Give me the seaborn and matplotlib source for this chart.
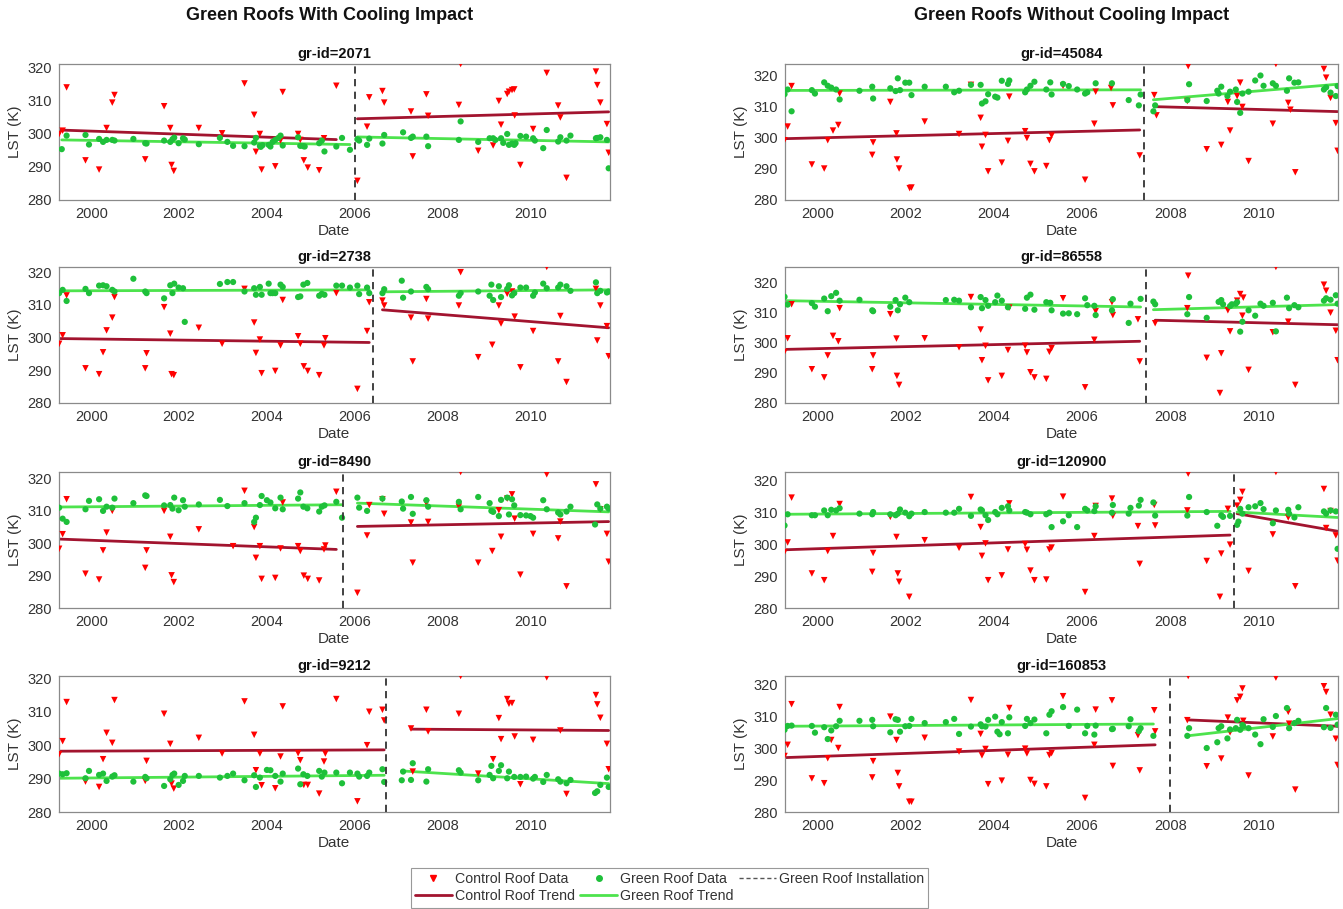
import numpy as np
import pandas as pd
import matplotlib
matplotlib.use("Agg")
import matplotlib.pyplot as plt
import seaborn as sns
from matplotlib.lines import Line2D

# ===============================
# DATA (decimal year, LST in K)
# ===============================

# --- gr-id=2071 ---
ctrl_date_2071 = [1999.27, 1999.35, 1999.44, 1999.87, 2000.18, 2000.35, 2000.48, 2000.53, 2001.23, 2001.66,
                  2001.80, 2001.83, 2001.88, 2002.45, 2002.98, 2003.49, 2003.71, 2003.75, 2003.84, 2003.88,
                  2004.19, 2004.31, 2004.36, 2004.71, 2004.76, 2004.84, 2004.93, 2005.19, 2005.30, 2005.58,
                  2006.06, 2006.28, 2006.33, 2006.63, 2006.67, 2007.28, 2007.32, 2007.63, 2007.67, 2008.37,
                  2008.41, 2008.81, 2009.15, 2009.28, 2009.33, 2009.47, 2009.51, 2009.58, 2009.63, 2009.64,
                  2009.77, 2010.06, 2010.37, 2010.63, 2010.68, 2010.82, 2011.49, 2011.52, 2011.59, 2011.74,
                  2011.78]
ctrl_lst_2071 = [300.0, 301.0, 314.1, 292.0, 289.2, 301.8, 309.5, 311.8, 292.3, 308.4,
                 301.8, 290.6, 288.8, 301.8, 300.2, 315.3, 305.8, 294.6, 300.0, 289.2,
                 290.2, 298.0, 312.7, 300.0, 298.2, 292.0, 289.8, 289.0, 298.7, 314.6,
                 285.8, 302.2, 311.1, 313.0, 309.5, 306.8, 293.2, 312.0, 305.5, 308.8,
                 321.2, 294.9, 296.5, 310.0, 302.8, 312.1, 312.8, 313.3, 313.5, 305.6,
                 290.6, 301.5, 318.5, 308.6, 305.0, 286.7, 318.9, 314.8, 309.5, 303.0,
                 294.3]
green_date_2071 = [1999.33, 1999.44, 1999.87, 1999.95, 2000.18, 2000.27, 2000.35, 2000.48, 2000.53, 2000.96,
                   2001.23, 2001.26, 2001.66, 2001.80, 2001.85, 2001.89, 2001.99, 2002.09, 2002.13, 2002.45,
                   2002.93, 2003.10, 2003.23, 2003.49, 2003.71, 2003.75, 2003.84, 2003.86, 2003.90, 2004.04,
                   2004.08, 2004.13, 2004.19, 2004.26, 2004.31, 2004.36, 2004.71, 2004.76, 2004.83, 2004.86,
                   2005.19, 2005.25, 2005.31, 2005.58, 2005.71, 2005.89, 2006.06, 2006.10, 2006.28, 2006.33,
                   2006.63, 2006.67, 2007.10, 2007.28, 2007.32, 2007.63, 2007.67, 2008.37, 2008.41, 2008.81,
                   2009.07, 2009.15, 2009.20, 2009.33, 2009.38, 2009.47, 2009.51, 2009.58, 2009.63, 2009.66,
                   2009.77, 2009.90, 2010.06, 2010.10, 2010.29, 2010.37, 2010.63, 2010.68, 2010.82, 2010.91,
                   2011.49, 2011.52, 2011.59, 2011.74, 2011.78]
green_lst_2071 = [295.4, 299.5, 299.7, 296.8, 298.5, 297.6, 298.2, 298.2, 298.0, 298.5,
                  297.2, 297.1, 298.0, 297.6, 298.4, 298.9, 297.2, 298.7, 298.3, 296.9,
                  298.8, 297.6, 296.4, 296.3, 297.4, 298.8, 296.4, 296.1, 296.6, 296.7,
                  296.2, 297.6, 298.2, 298.8, 299.5, 296.5, 299.0, 296.4, 296.3, 296.2,
                  297.2, 298.0, 294.7, 296.2, 298.8, 295.2, 298.4, 298.0, 296.7, 298.6,
                  297.1, 299.7, 300.5, 298.8, 299.2, 299.2, 296.3, 298.2, 303.8, 297.6,
                  298.7, 298.7, 298.2, 298.7, 297.3, 300.0, 296.7, 297.1, 296.7, 297.2,
                  299.4, 299.2, 298.7, 298.0, 295.7, 301.2, 297.7, 299.0, 298.0, 299.5,
                  298.7, 298.8, 299.0, 298.2, 289.6]
trend_ctrl_2071 = [301.2, 298.3, 304.6, 306.7]
trend_green_2071 = [298.2, 296.8, 299.1, 297.6]

# --- gr-id=2738 ---
ctrl_date_2738 = [1999.27, 1999.35, 1999.44, 1999.87, 2000.18, 2000.27, 2000.35, 2000.48, 2000.53, 2001.23,
                  2001.26, 2001.66, 2001.80, 2001.83, 2001.88, 2002.45, 2002.98, 2003.49, 2003.71, 2003.75,
                  2003.84, 2003.88, 2004.19, 2004.31, 2004.36, 2004.71, 2004.76, 2004.84, 2004.93, 2005.19,
                  2005.30, 2005.33, 2005.58, 2006.06, 2006.28, 2006.33, 2006.63, 2006.67, 2007.28, 2007.32,
                  2007.63, 2007.67, 2008.37, 2008.41, 2008.81, 2009.13, 2009.28, 2009.33, 2009.47, 2009.58,
                  2009.64, 2009.77, 2010.06, 2010.37, 2010.63, 2010.68, 2010.82, 2011.49, 2011.52, 2011.59,
                  2011.74, 2011.78]
ctrl_lst_2738 = [298.1, 300.7, 312.9, 290.6, 288.8, 295.5, 302.2, 306.1, 312.4, 290.6,
                 295.2, 309.3, 301.2, 288.8, 288.5, 303.0, 298.1, 314.9, 304.6, 295.3,
                 299.4, 289.1, 289.8, 297.6, 311.5, 300.4, 298.1, 291.2, 289.8, 288.5,
                 297.6, 299.8, 313.6, 284.3, 302.0, 310.8, 311.3, 309.8, 306.1, 292.7,
                 311.8, 305.8, 309.8, 320.0, 294.0, 297.8, 309.8, 304.3, 313.4, 314.1,
                 306.4, 290.9, 302.0, 321.6, 292.7, 306.6, 286.4, 314.9, 299.1, 309.8,
                 303.5, 294.3]
green_date_2738 = [1999.27, 1999.35, 1999.44, 1999.87, 1999.95, 2000.18, 2000.27, 2000.35, 2000.48, 2000.53,
                   2000.96, 2001.23, 2001.26, 2001.66, 2001.80, 2001.85, 2001.89, 2001.99, 2002.09, 2002.13,
                   2002.93, 2003.10, 2003.23, 2003.49, 2003.71, 2003.75, 2003.84, 2003.88, 2004.04, 2004.08,
                   2004.13, 2004.19, 2004.31, 2004.36, 2004.71, 2004.76, 2004.83, 2004.92, 2005.19, 2005.25,
                   2005.31, 2005.58, 2005.71, 2005.89, 2006.06, 2006.10, 2006.28, 2006.33, 2006.63, 2006.67,
                   2007.07, 2007.10, 2007.28, 2007.63, 2007.67, 2008.37, 2008.41, 2008.81, 2009.07, 2009.11,
                   2009.15, 2009.28, 2009.33, 2009.47, 2009.51, 2009.58, 2009.63, 2009.77, 2009.90, 2010.06,
                   2010.10, 2010.29, 2010.37, 2010.63, 2010.68, 2010.82, 2010.91, 2011.49, 2011.52, 2011.59,
                   2011.74, 2011.78]
green_lst_2738 = [313.6, 314.6, 311.2, 314.9, 313.6, 315.9, 316.0, 315.7, 314.6, 314.1,
                  318.0, 314.1, 313.6, 312.0, 316.0, 313.6, 316.5, 315.3, 315.1, 304.8,
                  316.4, 317.0, 317.0, 314.1, 315.1, 313.1, 315.5, 313.1, 316.5, 313.6,
                  313.6, 313.6, 316.2, 315.5, 312.4, 312.6, 316.2, 316.7, 312.8, 313.4,
                  313.1, 315.9, 315.9, 315.3, 315.9, 313.3, 315.3, 313.6, 313.6, 314.8,
                  317.4, 312.2, 314.1, 315.5, 314.8, 312.8, 313.6, 314.1, 312.8, 316.2,
                  311.5, 315.7, 312.4, 314.9, 316.0, 312.9, 313.6, 315.3, 315.3, 312.8,
                  313.8, 316.5, 315.1, 315.3, 316.2, 315.7, 314.3, 316.9, 313.6, 314.3,
                  313.8, 314.1]
trend_ctrl_2738 = [299.7, 298.5, 308.5, 303.0]
trend_green_2738 = [314.3, 314.6, 314.0, 314.6]

# --- gr-id=8490 ---
ctrl_date_8490 = [1999.27, 1999.35, 1999.44, 1999.87, 2000.18, 2000.27, 2000.35, 2000.48, 2001.23, 2001.26,
                  2001.66, 2001.80, 2001.83, 2001.88, 2002.45, 2003.23, 2003.49, 2003.71, 2003.75, 2003.84,
                  2003.88, 2004.19, 2004.31, 2004.36, 2004.71, 2004.76, 2004.84, 2004.93, 2005.19, 2005.30,
                  2005.33, 2005.58, 2006.06, 2006.28, 2006.33, 2006.63, 2006.67, 2007.28, 2007.32, 2007.63,
                  2007.67, 2008.37, 2008.41, 2008.81, 2009.13, 2009.28, 2009.33, 2009.47, 2009.58, 2009.64,
                  2009.77, 2010.06, 2010.37, 2010.63, 2010.68, 2010.82, 2011.49, 2011.59, 2011.74, 2011.78]
ctrl_lst_8490 = [298.3, 302.8, 313.6, 290.6, 288.8, 297.8, 303.3, 310.0, 292.4, 297.8,
                 310.0, 302.0, 290.1, 288.0, 304.3, 299.1, 316.2, 305.0, 295.5, 299.1,
                 289.0, 289.3, 298.4, 312.6, 299.1, 297.6, 290.0, 289.0, 288.5, 298.1,
                 299.3, 315.9, 284.7, 302.4, 311.8, 313.6, 309.1, 306.4, 294.0, 312.4,
                 306.6, 311.3, 322.0, 294.0, 297.6, 310.2, 302.0, 313.8, 315.1, 307.6,
                 290.3, 302.9, 321.3, 301.5, 306.7, 286.7, 318.2, 310.5, 302.9, 294.3]
green_date_8490 = [1999.27, 1999.35, 1999.44, 1999.87, 1999.95, 2000.18, 2000.27, 2000.35, 2000.48, 2000.53,
                   2000.96, 2001.23, 2001.26, 2001.66, 2001.80, 2001.85, 2001.89, 2001.99, 2002.09, 2002.13,
                   2002.45, 2002.93, 2003.10, 2003.49, 2003.71, 2003.75, 2003.84, 2003.88, 2004.00, 2004.08,
                   2004.19, 2004.31, 2004.36, 2004.71, 2004.76, 2004.83, 2004.92, 2005.19, 2005.25, 2005.31,
                   2005.58, 2005.71, 2006.06, 2006.10, 2006.28, 2006.63, 2007.07, 2007.10, 2007.28, 2007.32,
                   2007.63, 2007.67, 2008.37, 2008.41, 2008.81, 2009.07, 2009.11, 2009.15, 2009.28, 2009.33,
                   2009.47, 2009.51, 2009.58, 2009.63, 2009.77, 2009.90, 2010.00, 2010.06, 2010.29, 2010.37,
                   2010.63, 2010.68, 2010.82, 2010.91, 2011.47, 2011.52, 2011.59, 2011.74, 2011.78]
green_lst_8490 = [311.0, 307.6, 306.6, 310.5, 313.1, 313.6, 310.0, 311.3, 311.0, 313.8,
                  312.4, 314.8, 314.6, 311.7, 311.8, 310.7, 314.1, 310.2, 313.3, 311.3,
                  312.0, 313.4, 311.5, 312.4, 306.6, 307.9, 311.8, 314.6, 313.3, 312.6,
                  310.8, 314.1, 310.5, 313.8, 315.7, 311.3, 310.8, 309.8, 311.3, 311.7,
                  312.8, 307.9, 314.1, 311.0, 310.0, 313.8, 312.9, 310.7, 314.3, 309.1,
                  313.3, 311.3, 312.8, 310.5, 314.3, 312.4, 310.0, 309.7, 308.4, 313.4,
                  314.1, 308.9, 313.6, 311.7, 308.7, 308.6, 308.4, 307.9, 313.3, 310.5,
                  309.5, 308.9, 309.8, 311.3, 305.8, 312.0, 310.7, 311.3, 310.7]
trend_ctrl_8490 = [301.3, 298.1, 305.2, 306.7]
trend_green_8490 = [311.2, 311.9, 312.4, 309.7]

# --- gr-id=9212 ---
ctrl_date_9212 = [1999.27, 1999.35, 1999.44, 1999.87, 2000.18, 2000.27, 2000.35, 2000.48, 2000.53, 2001.23,
                  2001.26, 2001.66, 2001.80, 2001.83, 2001.88, 2002.45, 2002.98, 2003.49, 2003.71, 2003.75,
                  2003.84, 2003.88, 2004.19, 2004.31, 2004.36, 2004.71, 2004.76, 2004.84, 2004.93, 2005.19,
                  2005.30, 2005.33, 2005.58, 2006.06, 2006.28, 2006.33, 2006.63, 2006.67, 2007.28, 2007.32,
                  2007.63, 2007.67, 2008.37, 2008.41, 2008.81, 2009.15, 2009.28, 2009.33, 2009.47, 2009.51,
                  2009.58, 2009.64, 2009.77, 2010.06, 2010.37, 2010.68, 2010.82, 2011.49, 2011.52, 2011.59,
                  2011.74, 2011.78]
ctrl_lst_9212 = [297.3, 301.2, 312.9, 289.1, 287.5, 295.8, 303.7, 300.7, 313.5, 289.3,
                 295.3, 309.4, 300.4, 288.5, 287.0, 302.2, 297.5, 313.1, 303.1, 292.5,
                 297.5, 288.0, 287.1, 296.6, 311.6, 297.6, 295.5, 288.1, 288.1, 285.5,
                 295.1, 297.5, 313.8, 283.2, 300.0, 310.0, 310.6, 307.4, 305.0, 292.1,
                 310.6, 304.1, 309.4, 320.7, 291.5, 295.8, 308.1, 301.8, 313.8, 312.4,
                 312.6, 302.6, 288.3, 301.6, 320.3, 304.4, 285.4, 315.0, 312.2, 308.2,
                 300.4, 292.8]
green_date_9212 = [1999.27, 1999.35, 1999.44, 1999.87, 1999.95, 2000.18, 2000.27, 2000.35, 2000.48, 2000.53,
                   2000.96, 2001.23, 2001.26, 2001.66, 2001.80, 2001.85, 2001.89, 2001.99, 2002.09, 2002.13,
                   2002.45, 2002.93, 2003.10, 2003.23, 2003.49, 2003.71, 2003.75, 2003.84, 2004.00, 2004.08,
                   2004.19, 2004.31, 2004.36, 2004.71, 2004.76, 2004.83, 2004.92, 2005.19, 2005.25, 2005.31,
                   2005.58, 2005.71, 2005.89, 2006.06, 2006.10, 2006.28, 2006.33, 2006.63, 2006.67, 2007.07,
                   2007.10, 2007.28, 2007.32, 2007.63, 2007.67, 2008.37, 2008.41, 2008.81, 2009.07, 2009.11,
                   2009.15, 2009.28, 2009.33, 2009.47, 2009.51, 2009.63, 2009.77, 2009.90, 2010.06, 2010.10,
                   2010.29, 2010.37, 2010.63, 2010.68, 2010.82, 2010.91, 2011.47, 2011.52, 2011.59, 2011.74,
                   2011.78]
green_lst_9212 = [291.5, 291.3, 291.6, 290.1, 292.3, 291.1, 291.5, 289.3, 290.6, 291.0,
                  289.1, 290.5, 290.1, 287.8, 289.8, 291.1, 291.5, 288.1, 289.3, 290.8,
                  290.8, 290.3, 290.8, 291.5, 289.5, 291.0, 287.5, 290.3, 292.6, 292.5,
                  290.8, 289.1, 291.5, 293.0, 288.3, 291.3, 290.8, 292.3, 290.6, 291.8,
                  291.8, 288.6, 291.8, 291.5, 290.6, 290.8, 291.8, 292.8, 289.0, 289.5,
                  292.1, 289.6, 294.6, 289.1, 292.8, 292.5, 291.8, 289.5, 291.1, 293.8,
                  290.1, 292.3, 294.0, 290.1, 292.1, 290.5, 290.5, 290.6, 290.0, 290.5,
                  289.0, 291.1, 289.8, 289.1, 288.6, 289.6, 285.7, 286.2, 288.1, 290.3,
                  287.5]
trend_ctrl_9212 = [298.2, 298.6, 304.8, 304.4]
trend_green_9212 = [290.1, 291.0, 292.3, 288.5]

# --- gr-id=45084 ---
ctrl_date_45084 = [1999.25, 1999.32, 1999.41, 1999.87, 2000.15, 2000.23, 2000.35, 2000.47, 2000.50, 2001.24,
                   2001.26, 2001.65, 2001.79, 2001.80, 2001.85, 2002.09, 2002.13, 2002.43, 2003.21, 2003.48,
                   2003.70, 2003.73, 2003.81, 2003.87, 2004.18, 2004.32, 2004.35, 2004.71, 2004.75, 2004.83,
                   2004.92, 2005.19, 2005.26, 2005.31, 2005.57, 2006.07, 2006.28, 2006.31, 2006.66, 2006.70,
                   2007.31, 2007.64, 2007.69, 2008.39, 2008.41, 2008.83, 2009.16, 2009.31, 2009.36, 2009.52,
                   2009.59, 2009.64, 2009.78, 2010.33, 2010.40, 2010.68, 2010.73, 2010.84, 2011.49, 2011.54,
                   2011.64, 2011.76, 2011.80]
ctrl_lst_45084 = [299.2, 303.6, 316.6, 291.4, 290.1, 299.2, 302.3, 304.1, 314.2, 294.5,
                  298.5, 311.5, 301.4, 293.0, 290.1, 283.8, 284.0, 305.2, 301.2, 317.0,
                  306.4, 297.1, 300.9, 289.2, 292.0, 299.0, 313.2, 302.1, 299.9, 291.6,
                  289.2, 290.9, 299.2, 300.7, 316.7, 286.5, 304.5, 314.8, 316.0, 310.4,
                  294.3, 313.7, 307.2, 311.8, 323.0, 296.3, 297.7, 311.5, 302.3, 313.4,
                  317.7, 309.9, 292.5, 304.5, 323.7, 311.2, 309.0, 288.9, 322.1, 319.3,
                  312.8, 304.7, 295.8]
green_date_45084 = [1999.25, 1999.32, 1999.41, 1999.87, 1999.94, 2000.15, 2000.23, 2000.31, 2000.42, 2000.50,
                    2000.95, 2001.24, 2001.26, 2001.65, 2001.77, 2001.82, 2001.87, 2001.99, 2002.08, 2002.13,
                    2002.43, 2002.91, 2003.10, 2003.21, 2003.48, 2003.70, 2003.73, 2003.81, 2003.87, 2004.03,
                    2004.08, 2004.18, 2004.32, 2004.35, 2004.71, 2004.75, 2004.83, 2004.92, 2005.19, 2005.28,
                    2005.31, 2005.57, 2005.70, 2005.89, 2006.07, 2006.12, 2006.31, 2006.68, 2007.06, 2007.29,
                    2007.33, 2007.62, 2007.66, 2008.39, 2008.43, 2008.83, 2009.07, 2009.10, 2009.16, 2009.30,
                    2009.36, 2009.49, 2009.52, 2009.59, 2009.64, 2009.78, 2009.93, 2010.05, 2010.12, 2010.33,
                    2010.40, 2010.65, 2010.70, 2010.82, 2010.91, 2011.49, 2011.54, 2011.64, 2011.76, 2011.80]
green_lst_45084 = [314.0, 315.5, 308.5, 315.3, 314.2, 317.8, 316.7, 316.1, 315.5, 312.3,
                   315.1, 316.4, 312.6, 315.9, 315.0, 319.1, 315.3, 317.7, 317.7, 313.7,
                   316.4, 316.4, 314.6, 315.1, 317.0, 317.0, 311.0, 311.7, 314.0, 313.2,
                   312.9, 318.3, 317.3, 318.4, 314.6, 315.5, 316.7, 318.0, 315.5, 317.8,
                   313.9, 317.3, 316.6, 315.5, 314.2, 314.6, 317.5, 317.5, 312.1, 310.4,
                   313.9, 308.5, 310.4, 312.1, 317.2, 311.8, 315.1, 314.2, 316.4, 313.4,
                   314.8, 315.5, 311.5, 308.0, 314.2, 314.8, 318.4, 320.0, 316.7, 317.5,
                   316.7, 315.1, 319.1, 317.7, 317.8, 315.5, 316.2, 314.5, 313.4, 316.6]
trend_ctrl_45084 = [299.7, 302.5, 310.0, 308.4]
trend_green_45084 = [315.2, 315.4, 312.2, 317.2]

# --- gr-id=86558 ---
ctrl_date_86558 = [1999.25, 1999.32, 1999.41, 1999.87, 2000.15, 2000.23, 2000.35, 2000.47, 2000.50, 2001.24,
                   2001.26, 2001.65, 2001.79, 2001.80, 2001.85, 2002.43, 2003.21, 2003.48, 2003.70, 2003.73,
                   2003.81, 2003.87, 2004.18, 2004.32, 2004.35, 2004.71, 2004.75, 2004.83, 2004.92, 2005.19,
                   2005.26, 2005.31, 2005.57, 2006.07, 2006.28, 2006.31, 2006.68, 2006.70, 2007.27, 2007.31,
                   2007.66, 2008.39, 2008.41, 2008.83, 2009.13, 2009.16, 2009.31, 2009.36, 2009.52, 2009.59,
                   2009.64, 2009.66, 2009.78, 2010.33, 2010.40, 2010.68, 2010.84, 2011.49, 2011.54, 2011.64,
                   2011.76, 2011.80]
ctrl_lst_86558 = [297.0, 301.5, 312.8, 291.2, 288.5, 295.8, 302.3, 300.5, 311.5, 291.2,
                  295.8, 309.5, 301.4, 289.0, 286.0, 301.5, 298.5, 315.2, 304.4, 294.2,
                  299.0, 287.5, 289.0, 297.6, 311.7, 299.0, 296.8, 290.2, 288.5, 288.0,
                  297.0, 298.2, 314.8, 285.2, 301.0, 310.5, 313.5, 309.2, 307.8, 293.8,
                  306.5, 311.5, 322.3, 295.0, 283.3, 296.5, 310.8, 303.8, 314.0, 316.2,
                  309.0, 315.0, 291.0, 303.5, 325.2, 307.0, 286.0, 319.3, 317.3, 310.0,
                  304.0, 294.2]
green_date_86558 = [1999.25, 1999.32, 1999.87, 1999.94, 2000.15, 2000.23, 2000.31, 2000.42, 2000.50, 2000.95,
                    2001.24, 2001.26, 2001.65, 2001.77, 2001.82, 2001.87, 2001.99, 2002.08, 2002.91, 2003.10,
                    2003.21, 2003.48, 2003.70, 2003.73, 2003.81, 2003.87, 2004.03, 2004.08, 2004.18, 2004.32,
                    2004.71, 2004.75, 2004.83, 2004.92, 2005.19, 2005.28, 2005.31, 2005.57, 2005.70, 2005.89,
                    2006.07, 2006.12, 2006.28, 2006.31, 2006.68, 2006.70, 2007.06, 2007.10, 2007.33, 2007.62,
                    2007.66, 2008.39, 2008.43, 2008.83, 2009.10, 2009.16, 2009.20, 2009.36, 2009.40, 2009.49,
                    2009.52, 2009.59, 2009.64, 2009.78, 2009.93, 2010.05, 2010.12, 2010.33, 2010.40, 2010.65,
                    2010.70, 2010.82, 2010.91, 2011.49, 2011.54, 2011.64, 2011.76, 2011.80]
green_lst_86558 = [315.3, 312.7, 313.2, 312.0, 314.7, 310.5, 315.5, 316.6, 314.0, 314.3,
                   310.8, 310.5, 312.0, 314.2, 310.8, 312.8, 315.0, 313.5, 314.2, 314.3,
                   314.0, 311.8, 315.2, 311.5, 314.2, 312.3, 313.5, 315.7, 314.0, 311.8,
                   311.3, 315.0, 316.0, 311.0, 313.5, 313.3, 310.8, 309.7, 309.8, 309.5,
                   314.8, 312.5, 312.3, 309.2, 310.8, 314.5, 306.6, 313.0, 314.6, 313.7,
                   312.8, 309.5, 315.2, 308.3, 313.6, 314.2, 312.8, 312.2, 312.8, 313.0,
                   313.5, 303.7, 307.0, 310.8, 309.0, 313.0, 312.3, 313.3, 303.8, 315.0,
                   311.5, 312.5, 311.8, 314.0, 314.8, 314.3, 315.8, 313.0]
trend_ctrl_86558 = [297.8, 300.5, 307.5, 306.0]
trend_green_86558 = [314.0, 311.9, 311.0, 312.7]

# --- gr-id=120900 ---
ctrl_date_120900 = [1999.25, 1999.32, 1999.41, 1999.87, 2000.15, 2000.23, 2000.35, 2000.50, 2001.24, 2001.26,
                    2001.65, 2001.79, 2001.82, 2001.85, 2002.08, 2002.43, 2003.21, 2003.48, 2003.70, 2003.73,
                    2003.81, 2003.87, 2004.18, 2004.32, 2004.35, 2004.71, 2004.75, 2004.83, 2004.92, 2005.19,
                    2005.26, 2005.31, 2005.57, 2006.07, 2006.28, 2006.31, 2006.68, 2006.70, 2007.27, 2007.31,
                    2007.64, 2007.66, 2008.39, 2008.41, 2008.83, 2009.13, 2009.16, 2009.31, 2009.36, 2009.52,
                    2009.59, 2009.64, 2009.78, 2010.33, 2010.40, 2010.68, 2010.84, 2011.49, 2011.54, 2011.64,
                    2011.76, 2011.80]
ctrl_lst_120900 = [297.5, 300.5, 314.5, 290.8, 288.7, 297.8, 302.5, 312.5, 291.3, 297.2,
                   308.5, 302.2, 290.8, 288.2, 283.5, 301.2, 298.8, 314.7, 305.3, 296.3,
                   300.2, 288.7, 290.2, 298.3, 312.7, 300.0, 298.2, 291.7, 288.7, 288.9,
                   298.3, 298.9, 314.8, 285.0, 302.5, 311.9, 314.2, 308.8, 305.6, 293.8,
                   312.2, 305.8, 310.5, 322.0, 294.7, 283.5, 297.0, 311.0, 299.8, 312.0,
                   313.8, 316.3, 291.6, 303.0, 322.5, 308.3, 286.8, 317.2, 305.0, 310.3,
                   302.7, 294.8]
green_date_120900 = [1999.25, 1999.32, 1999.87, 1999.94, 2000.15, 2000.23, 2000.31, 2000.42, 2000.50, 2000.95,
                     2001.24, 2001.26, 2001.65, 2001.77, 2001.82, 2001.87, 2001.99, 2002.08, 2002.13, 2002.43,
                     2002.91, 2003.10, 2003.21, 2003.48, 2003.70, 2003.73, 2003.81, 2003.87, 2004.03, 2004.08,
                     2004.18, 2004.32, 2004.35, 2004.71, 2004.75, 2004.83, 2005.19, 2005.26, 2005.31, 2005.57,
                     2005.70, 2005.89, 2006.07, 2006.12, 2006.28, 2006.31, 2006.68, 2006.70, 2007.06, 2007.10,
                     2007.29, 2007.33, 2007.62, 2007.66, 2008.39, 2008.43, 2008.83, 2009.07, 2009.16, 2009.20,
                     2009.36, 2009.52, 2009.55, 2009.59, 2009.64, 2009.78, 2009.93, 2010.05, 2010.12, 2010.33,
                     2010.40, 2010.68, 2010.70, 2010.82, 2010.91, 2011.49, 2011.54, 2011.64, 2011.76, 2011.80]
green_lst_120900 = [305.8, 309.3, 309.0, 309.0, 310.5, 309.0, 310.7, 310.5, 311.2, 309.5,
                    309.3, 310.0, 309.3, 309.0, 309.5, 310.8, 309.8, 308.7, 309.5, 310.0,
                    309.8, 309.8, 311.0, 308.8, 310.8, 310.5, 309.0, 307.5, 310.0, 309.3,
                    311.3, 311.8, 310.5, 310.0, 309.8, 309.3, 309.3, 309.8, 305.3, 307.1,
                    309.0, 305.3, 311.0, 310.5, 310.3, 311.8, 309.8, 312.2, 309.5, 311.3,
                    312.0, 313.8, 313.0, 308.9, 308.9, 314.7, 310.0, 305.7, 309.0, 308.5,
                    308.8, 306.0, 307.0, 311.0, 309.5, 311.5, 311.8, 312.8, 310.9, 306.5,
                    310.5, 310.7, 309.5, 308.3, 311.5, 310.2, 309.5, 310.5, 310.2, 298.5]
trend_ctrl_120900 = [298.2, 302.8, 309.5, 304.0]
trend_green_120900 = [309.3, 310.2, 310.0, 308.3]

# --- gr-id=160853 ---
ctrl_date_160853 = [1999.25, 1999.32, 1999.41, 1999.87, 2000.15, 2000.23, 2000.31, 2000.47, 2000.50, 2001.24,
                    2001.26, 2001.65, 2001.79, 2001.82, 2001.85, 2002.08, 2002.13, 2002.43, 2003.21, 2003.48,
                    2003.70, 2003.73, 2003.81, 2003.87, 2004.18, 2004.32, 2004.35, 2004.71, 2004.75, 2004.83,
                    2004.92, 2005.19, 2005.26, 2005.31, 2005.57, 2006.07, 2006.28, 2006.31, 2006.68, 2006.70,
                    2007.27, 2007.31, 2007.64, 2007.66, 2008.39, 2008.41, 2008.83, 2009.16, 2009.31, 2009.36,
                    2009.52, 2009.59, 2009.64, 2009.66, 2009.78, 2010.33, 2010.40, 2010.68, 2010.70, 2010.84,
                    2011.49, 2011.54, 2011.64, 2011.76, 2011.80]
ctrl_lst_160853 = [297.5, 301.0, 313.7, 290.5, 289.0, 296.8, 302.5, 300.0, 312.8, 290.8,
                   295.9, 309.8, 302.5, 292.2, 288.0, 283.2, 283.2, 303.2, 298.9, 315.0,
                   304.4, 297.7, 299.7, 288.7, 289.8, 297.9, 312.5, 299.8, 298.3, 290.0,
                   288.8, 288.0, 297.8, 298.4, 316.2, 284.4, 301.0, 312.0, 314.9, 294.4,
                   304.0, 293.0, 311.8, 305.2, 308.7, 322.5, 294.3, 296.7, 309.5, 304.9,
                   314.9, 316.0, 318.6, 308.5, 291.4, 303.6, 322.0, 311.3, 307.6, 287.0,
                   319.3, 317.5, 310.4, 302.9, 294.7]
green_date_160853 = [1999.25, 1999.32, 1999.41, 1999.87, 1999.94, 2000.15, 2000.23, 2000.31, 2000.42, 2000.50,
                     2000.95, 2001.24, 2001.26, 2001.65, 2001.77, 2001.82, 2001.87, 2001.99, 2002.08, 2002.13,
                     2002.43, 2002.91, 2003.10, 2003.21, 2003.48, 2003.70, 2003.73, 2003.81, 2003.87, 2004.03,
                     2004.08, 2004.13, 2004.18, 2004.32, 2004.35, 2004.71, 2004.75, 2004.83, 2004.92, 2005.19,
                     2005.26, 2005.31, 2005.57, 2005.70, 2005.89, 2006.07, 2006.12, 2006.28, 2006.31, 2006.68,
                     2006.70, 2007.06, 2007.10, 2007.29, 2007.33, 2007.62, 2008.39, 2008.43, 2008.83, 2009.07,
                     2009.10, 2009.16, 2009.30, 2009.36, 2009.49, 2009.52, 2009.59, 2009.64, 2009.66, 2009.78,
                     2009.93, 2010.05, 2010.12, 2010.33, 2010.40, 2010.65, 2010.70, 2010.82, 2010.91, 2011.49,
                     2011.54, 2011.64, 2011.76, 2011.80]
green_lst_160853 = [305.7, 306.9, 307.0, 306.9, 304.8, 306.5, 302.8, 305.5, 306.8, 308.5,
                    308.5, 308.8, 306.8, 304.9, 309.0, 308.8, 305.1, 306.8, 306.9, 309.1,
                    307.8, 308.1, 309.1, 304.4, 306.7, 307.4, 306.8, 306.7, 308.8, 309.8,
                    305.1, 304.3, 308.1, 304.6, 309.6, 306.9, 309.1, 307.8, 308.9, 304.6,
                    310.4, 311.5, 312.8, 306.9, 312.0, 304.6, 306.9, 304.2, 307.0, 305.9,
                    306.0, 306.8, 309.0, 305.3, 306.2, 303.8, 303.8, 306.2, 300.0, 301.8,
                    306.2, 306.8, 303.0, 305.8, 306.2, 308.8, 305.7, 307.2, 306.8, 306.2,
                    304.2, 301.2, 309.0, 306.6, 310.0, 312.5, 306.2, 307.8, 308.5, 306.5,
                    312.5, 306.3, 310.4, 307.3]
trend_ctrl_160853 = [297.0, 301.0, 308.8, 306.8]
trend_green_160853 = [306.8, 307.5, 303.8, 309.2]

# installation dates (decimal year)
install_with = [2006.00, 2006.42, 2005.73, 2006.71]
install_without = [2007.40, 2007.45, 2009.45, 2008.00]

ids_with = ["2071", "2738", "8490", "9212"]
ids_without = ["45084", "86558", "120900", "160853"]

panels = {
    "2071": (ctrl_date_2071, ctrl_lst_2071, green_date_2071, green_lst_2071, trend_ctrl_2071, trend_green_2071),
    "2738": (ctrl_date_2738, ctrl_lst_2738, green_date_2738, green_lst_2738, trend_ctrl_2738, trend_green_2738),
    "8490": (ctrl_date_8490, ctrl_lst_8490, green_date_8490, green_lst_8490, trend_ctrl_8490, trend_green_8490),
    "9212": (ctrl_date_9212, ctrl_lst_9212, green_date_9212, green_lst_9212, trend_ctrl_9212, trend_green_9212),
    "45084": (ctrl_date_45084, ctrl_lst_45084, green_date_45084, green_lst_45084, trend_ctrl_45084, trend_green_45084),
    "86558": (ctrl_date_86558, ctrl_lst_86558, green_date_86558, green_lst_86558, trend_ctrl_86558, trend_green_86558),
    "120900": (ctrl_date_120900, ctrl_lst_120900, green_date_120900, green_lst_120900, trend_ctrl_120900, trend_green_120900),
    "160853": (ctrl_date_160853, ctrl_lst_160853, green_date_160853, green_lst_160853, trend_ctrl_160853, trend_green_160853),
}

# ===============================
# STYLE
# ===============================
sns.set_style("white")
plt.rcParams['font.family'] = ['Liberation Sans', 'DejaVu Sans']

RED = "#ff0000"
GREEN = "#1ec03a"
RED_TREND = "#a2142f"
GREEN_TREND = "#4de34d"
AX_GRAY = "#8a8a8a"
TXT = "#333333"

fig = plt.figure(figsize=(13.43, 9.09), dpi=100)

col_left = [0.0437, 0.5845]
col_width = [0.4105, 0.4118]
row_bottom = [0.780, 0.5567, 0.3311, 0.1067]
row_height = 0.1496


def trend_segment(ax, dates, trend, install, color):
    d = np.array(dates)
    pre = d[d < install]
    post = d[d >= install]
    seg = pd.DataFrame({"x": [pre.min(), pre.max()], "y": trend[:2]})
    sns.lineplot(data=seg, x="x", y="y", color=color, lw=2.0, ax=ax, legend=False)
    seg = pd.DataFrame({"x": [post.min(), post.max()], "y": trend[2:]})
    sns.lineplot(data=seg, x="x", y="y", color=color, lw=2.0, ax=ax, legend=False)


def draw_panel(ax, gid, install):
    cd, cl, gd, gl, tc, tg = panels[gid]
    ctrl = pd.DataFrame({"date": cd, "lst": cl})
    green = pd.DataFrame({"date": gd, "lst": gl})
    sns.scatterplot(data=ctrl, x="date", y="lst", marker="v", color=RED, s=22,
                    edgecolor="none", ax=ax, zorder=3)
    sns.scatterplot(data=green, x="date", y="lst", marker="o", color=GREEN, s=20,
                    edgecolor="none", ax=ax, zorder=3)
    trend_segment(ax, cd, tc, install, RED_TREND)
    trend_segment(ax, gd, tg, install, GREEN_TREND)
    ax.axvline(install, color="#333333", ls=(0, (4, 3)), lw=1.3, zorder=4)

    ax.set_xlim(1999.26, 2011.81)
    ax.set_ylim(280, max(cl + gl))
    ax.set_xticks([2000, 2002, 2004, 2006, 2008, 2010])
    ax.set_yticks([280, 290, 300, 310, 320])
    ax.tick_params(direction="in", length=3, width=0.7, colors=AX_GRAY,
                   labelcolor=TXT, labelsize=10.5, pad=5, top=False, right=False)
    for sp in ax.spines.values():
        sp.set_color(AX_GRAY)
        sp.set_linewidth(0.9)
    ax.set_title(f"gr-id={gid}", fontsize=10.5, fontweight="bold", pad=4, color="#111111")
    ax.set_xlabel("Date", fontsize=11, color=TXT, labelpad=2)
    ax.set_ylabel("LST (K)", fontsize=11, color=TXT, labelpad=4)


for c, (ids, inst) in enumerate([(ids_with, install_with), (ids_without, install_without)]):
    for r in range(4):
        ax = fig.add_axes([col_left[c], row_bottom[r], col_width[c], row_height])
        draw_panel(ax, ids[r], inst[r])

fig.text(330 / 1343, 1 - 16 / 909, "Green Roofs With Cooling Impact",
         ha="center", va="center", fontsize=13, fontweight="bold", color="#111111")
fig.text(1072 / 1343, 1 - 16 / 909, "Green Roofs Without Cooling Impact",
         ha="center", va="center", fontsize=13, fontweight="bold", color="#111111")

handles = [
    Line2D([], [], ls="none", marker="v", color=RED, markersize=5, label="Control Roof Data"),
    Line2D([], [], color=RED_TREND, lw=2, label="Control Roof Trend"),
    Line2D([], [], ls="none", marker="o", color=GREEN, markersize=4, label="Green Roof Data"),
    Line2D([], [], color=GREEN_TREND, lw=2, label="Green Roof Trend"),
    Line2D([], [], color="#555555", ls=(0, (3, 2)), lw=1.0, label="Green Roof Installation"),
]
leg = fig.legend(handles=handles, loc="lower center", bbox_to_anchor=(0.4985, 0.0), ncol=3,
                 frameon=True, fancybox=False, edgecolor="#808080", fontsize=10.2,
                 columnspacing=0.4, handletextpad=0.2, borderpad=0.3, labelspacing=0.25,
                 handlelength=2.6, borderaxespad=0.1)
leg.get_frame().set_linewidth(0.8)
for t in leg.get_texts():
    t.set_color(TXT)

fig.savefig("out.png", dpi=100)
